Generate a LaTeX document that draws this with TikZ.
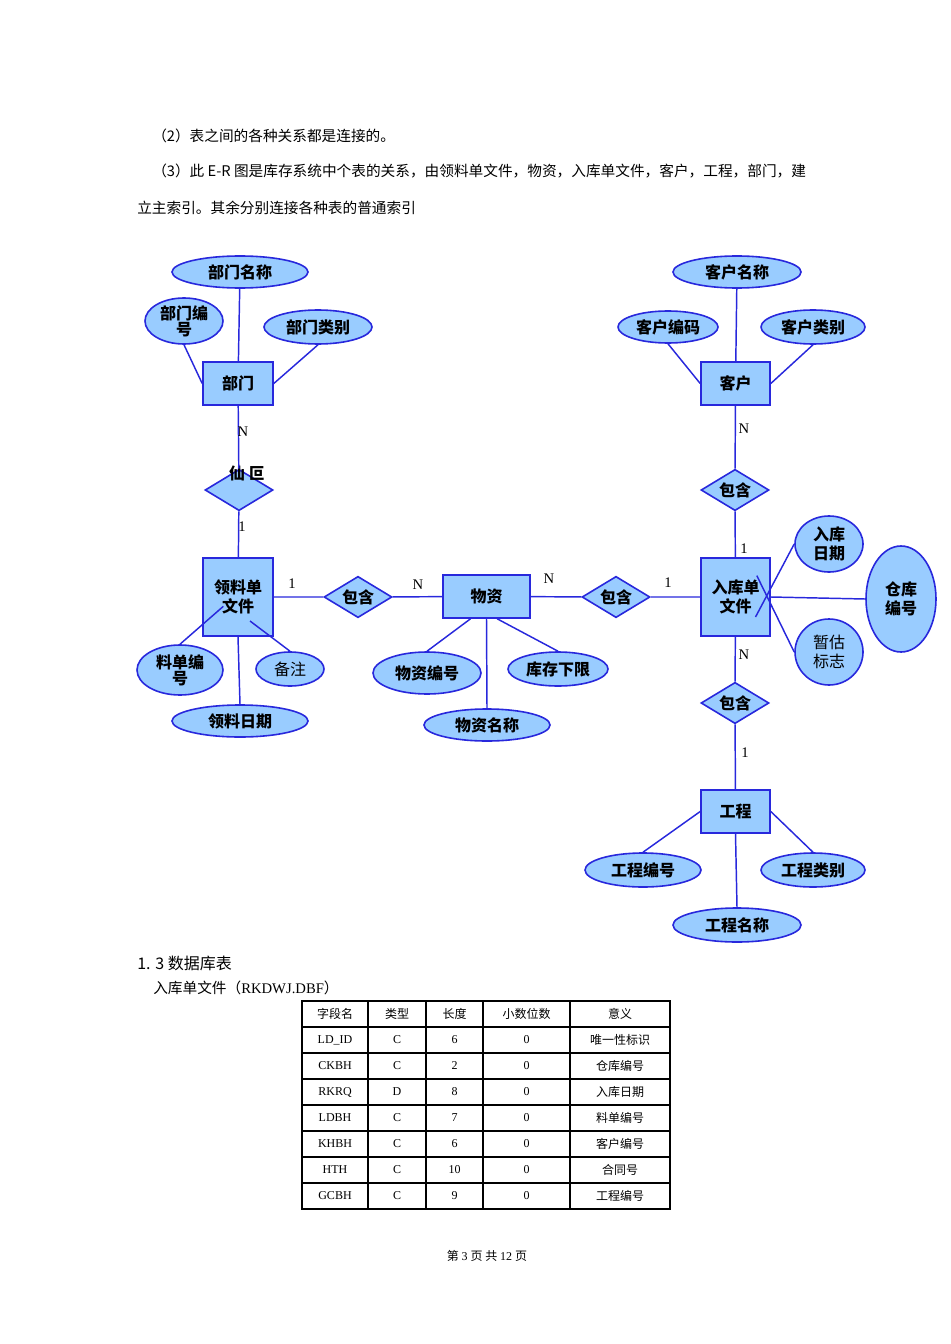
\documentclass[tikz,border=0pt]{standalone}
\usepackage{fontspec}
\setmainfont{Noto Sans CJK SC}
\newfontfamily\serifl{Liberation Serif}
\usetikzlibrary{shapes.geometric}
\definecolor{efill}{RGB}{153,204,255}
\definecolor{eline}{RGB}{40,40,220}
\tikzset{
  attr/.style 2 args={ellipse, draw=eline, fill=efill, line width=1.2pt, inner sep=0pt, minimum width=#1*0.75pt, minimum height=#2*0.75pt, font=\bfseries\fontsize{12}{13}\selectfont, align=center},
  ent/.style 2 args={rectangle, draw=eline, fill=efill, line width=1.2pt, inner sep=0pt, minimum width=#1*0.75pt, minimum height=#2*0.75pt, font=\bfseries\fontsize{12}{14}\selectfont, align=center},
  rel/.style={diamond, draw=eline, fill=efill, line width=1.2pt, inner sep=0pt, minimum width=51pt, minimum height=31pt, aspect=1.7, font=\bfseries\fontsize{12}{13}\selectfont},
  lk/.style={draw=eline, line width=1.1pt},
  card/.style={font=\serifl\fontsize{11}{12}\selectfont},
  body/.style={font=\fontsize{11}{13}\selectfont, anchor=west, inner sep=0pt},
  cell/.style={font=\fontsize{9}{10}\selectfont},
}
\begin{document}
\begin{tikzpicture}[x=0.75pt,y=-0.75pt]
\useasboundingbox (0,0) rectangle (950,1344);
% text
\node[body] (t1) at (152,136) {（2）表之间的各种关系都是连接的。};
\node[body] (t2) at (152,171) {（3）此 E-R 图是库存系统中个表的关系，由领料单文件，物资，入库单文件，客户，工程，部门，建};
\node[body] (t3) at (137,208) {立主索引。其余分别连接各种表的普通索引};
% left
\node[attr={136}{32}] (bmmc) at (240,272) {部门名称};
\node[attr={78}{46}, font=\bfseries\fontsize{12}{12}\selectfont] (bmbh) at (184,321) {部门编\\号};
\node[attr={108}{34}] (bmlb) at (318,327) {部门类别};
\node[ent={70}{43}] (bm) at (238,383.5) {部门};
\node[rel] (r1) at (239,490) {};
\node[font=\bfseries\fontsize{12}{13}\selectfont] (r1t) at (247,473) {仙 叵};
\node[ent={70}{78}] (llwj) at (238,597) {领料单\\文件};
\node[rel] (r2) at (358,597) {包含};
\node[ent={87}{43}] (wz) at (486.5,596.5) {物资};
\node[rel] (r3) at (616,597) {包含};
\node[ent={69}{78}] (rkwj) at (735.5,597) {入库单\\文件};
\node[attr={86}{50}, font=\bfseries\fontsize{12}{12}\selectfont] (ldbh) at (180,670) {料单编\\号};
\node[attr={68}{34}, font=\fontsize{12}{13}\selectfont] (bz) at (290,669) {备注};
\node[attr={136}{32}] (llrq) at (240,721) {领料日期};
\node[attr={108}{42}] (wzbh) at (427,673) {物资编号};
\node[attr={100}{34}] (kcxx) at (558,669) {库存下限};
\node[attr={126}{32}] (wzmc) at (487,725) {物资名称};
% right
\node[attr={128}{32}] (khmc) at (737,272) {客户名称};
\node[attr={100}{32}] (khbm) at (668,327) {客户编码};
\node[attr={104}{34}] (khlb) at (813,327) {客户类别};
\node[ent={69}{43}] (kh) at (735.5,383.5) {客户};
\node[rel] (r4) at (735,490) {包含};
\node[attr={68}{56}, font=\bfseries\fontsize{12}{14}\selectfont] (rkrq) at (829,544) {入库\\日期};
\node[attr={70}{106}, font=\bfseries\fontsize{12}{14}\selectfont] (ckbh) at (901,599) {仓库\\编号};
\node[attr={68}{66}, font=\fontsize{12}{14}\selectfont] (zgbz) at (829,652) {暂估\\标志};
\node[rel] (r5) at (735,703) {包含};
\node[ent={69}{43}] (gc) at (735.5,811.5) {工程};
\node[attr={116}{34}] (gcbh) at (643,870) {工程编号};
\node[attr={104}{34}] (gclb) at (813,870) {工程类别};
\node[attr={128}{34}] (gcmc) at (737,925) {工程名称};
% links
\draw[lk] (bmmc) -- (bm);
\draw[lk] (bmbh.south) -- (bm.west);
\draw[lk] (bmlb.south) -- (bm.east);
\draw[lk] (bm) -- (r1) -- (llwj);
\draw[lk] (llwj) -- (r2) -- (wz) -- (r3) -- (rkwj);
\draw[lk] (ldbh.north) -- ([xshift=-11pt,yshift=-7pt]llwj.center);
\draw[lk] (bz.north) -- ([xshift=9pt,yshift=-18pt]llwj.center);
\draw[lk] (llwj.south) -- (llrq.north);
\draw[lk] ([xshift=-12pt]wz.south) -- (wzbh.north);
\draw[lk] (wz.south) -- (wzmc.north);
\draw[lk] ([xshift=8pt]wz.south) -- (kcxx.north);
\draw[lk] (khmc) -- (kh);
\draw[lk] (khbm.south) -- (kh.west);
\draw[lk] (khlb.south) -- (kh.east);
\draw[lk] (kh) -- (r4) -- (rkwj);
\draw[lk] (rkwj) -- (r5) -- (gc);
\draw[lk] ([xshift=15pt,yshift=-15pt]rkwj.center) -- (rkrq.west);
\draw[lk] ([xshift=16pt,yshift=16pt]rkwj.center) -- (zgbz.west);
\draw[lk] (rkwj.east) -- (ckbh.west);
\draw[lk] (gc.west) -- (gcbh.north);
\draw[lk] (gc.south) -- (gcmc.north);
\draw[lk] (gc.east) -- (gclb.north);
% cardinalities
\node[card] (c1) at (243,432) {N};
\node[card] (c2) at (242,527) {1};
\node[card] (c3) at (292,584) {1};
\node[card] (c4) at (418,585) {N};
\node[card] (c5) at (549,579) {N};
\node[card] (c6) at (668,583) {1};
\node[card] (c7) at (744,429) {N};
\node[card] (c8) at (744,549) {1};
\node[card] (c9) at (744,655) {N};
\node[card] (c10) at (745,753) {1};
% section
\node[body, font=\fontsize{12}{14}\selectfont] (h1) at (137,963) {1. 3 数据库表};
\node[body] (h2) at (153,988) {入库单文件（\serifl RKDWJ.DBF\rmfamily）};
% table
\draw[line width=0.8pt] (302,1001) rectangle (670,1209);
\foreach \x in {368,426,483,570} \draw[line width=0.8pt] (\x,1001) -- (\x,1209);
\foreach \k in {1,...,7} \draw[line width=0.8pt] (302,1001+26*\k) -- (670,1001+26*\k);
\foreach \a/\b/\c/\d/\e [count=\i] in {字段名/类型/长度/小数位数/意义,
  {\serifl LD\_ID}/{\serifl C}/{\serifl 6}/{\serifl 0}/唯一性标识,
  {\serifl CKBH}/{\serifl C}/{\serifl 2}/{\serifl 0}/仓库编号,
  {\serifl RKRQ}/{\serifl D}/{\serifl 8}/{\serifl 0}/入库日期,
  {\serifl LDBH}/{\serifl C}/{\serifl 7}/{\serifl 0}/料单编号,
  {\serifl KHBH}/{\serifl C}/{\serifl 6}/{\serifl 0}/客户编号,
  {\serifl HTH}/{\serifl C}/{\serifl 10}/{\serifl 0}/合同号,
  {\serifl GCBH}/{\serifl C}/{\serifl 9}/{\serifl 0}/工程编号} {
  \node[cell] at (335,988+26*\i) {\a};
  \node[cell] at (397,988+26*\i) {\b};
  \node[cell] at (454.5,988+26*\i) {\c};
  \node[cell] at (526.5,988+26*\i) {\d};
  \node[cell] at (620,988+26*\i) {\e};
}
\node[cell] (ft) at (487,1256) {第 \serifl 3 \rmfamily 页 共 \serifl 12 \rmfamily 页};
\end{tikzpicture}
\end{document}
